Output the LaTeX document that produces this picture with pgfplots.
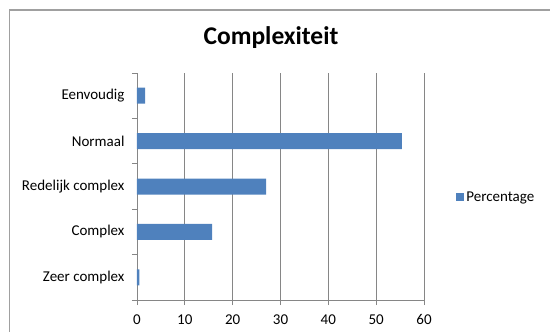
\documentclass[border=0pt]{standalone}
\usepackage{pgfplots}
\pgfplotsset{compat=1.18}
\usepackage{fontspec}
\setmainfont{Carlito}
\definecolor{barblue}{HTML}{4F81BD}
\definecolor{gridgray}{HTML}{868686}
\definecolor{framegray}{HTML}{A0A0A0}
\begin{document}
\begin{tikzpicture}
\useasboundingbox (0pt,0pt) rectangle (550pt,332pt);
\draw[color=framegray, line width=1.2pt] (9.5pt,-1pt) -- (9.5pt,322pt) -- (551pt,322pt);
\node[font=\fontsize{25.5}{30}\selectfont\bfseries] at (271pt,294pt) {Complexiteit};
\begin{axis}[
  at={(137pt,32pt)}, anchor=south west,
  scale only axis, width=287pt, height=227pt,
  xbar, bar width=16pt, bar shift=0pt,
  xmin=0, xmax=60, ymin=-0.5, ymax=4.5,
  y dir=reverse,
  enlargelimits=false,
  axis x line*=bottom, axis y line*=left,
  axis line style={gridgray, line width=0.8pt, -},
  xtick={0,10,...,60},
  ytick={0,1,2,3,4},
  yticklabels={Eenvoudig, Normaal, Redelijk complex, Complex, Zeer complex},
  minor ytick={-0.5,0.5,...,4.5},
  major tick length=5pt,
  minor tick length=5pt,
  tick align=outside,
  tick style={gridgray, line width=0.8pt},
  every major y tick/.style={draw=none},
  xmajorgrids,
  major grid style={gridgray, line width=0.8pt},
  ticklabel style={font=\fontsize{15}{18}\selectfont},
  /pgf/number format/assume math mode=true,
  yticklabel style={xshift=-4pt},
  xticklabel style={yshift=-6pt},
  legend style={at={(1.112,0.454)}, anchor=west, draw=none, fill=none,
    font=\fontsize{15}{18}\selectfont, inner sep=0pt},
  legend image code/.code={\fill[barblue] (0pt,-4pt) rectangle (8pt,4pt);},
]
\addplot[fill=barblue, draw=none] coordinates {
  (1.7,0) (55.4,1) (27.0,2) (15.7,3) (0.5,4)
};
\addlegendentry{Percentage}
\end{axis}
\end{tikzpicture}
\end{document}
